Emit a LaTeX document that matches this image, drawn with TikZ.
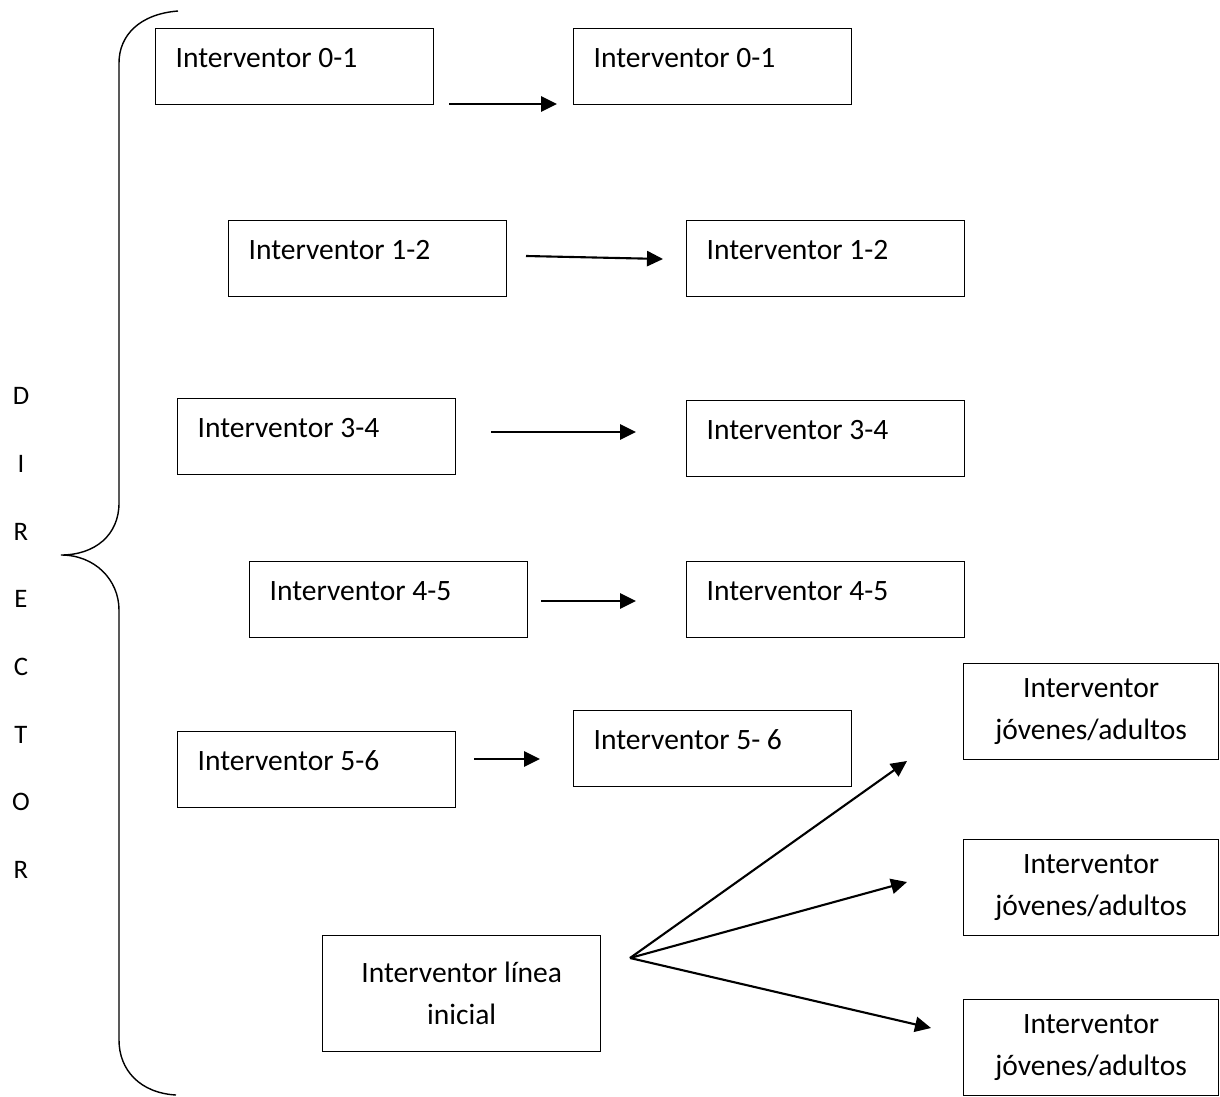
\documentclass[tikz,border=0pt]{standalone}
\usepackage{fontspec}
\setmainfont{Carlito}
\usetikzlibrary{arrows.meta}

\begin{document}
\begin{tikzpicture}[x=0.025cm, y=-0.025cm,
  ivbox/.style={draw, line width=0.9pt, anchor=north west, inner xsep=0.5cm, inner ysep=0pt,
    text width=5.95cm, align=flush left, text height=0.96cm, text depth=0.94cm,
    font=\fontsize{21}{25}\selectfont},
  cbox/.style={draw, line width=0.9pt, anchor=north west, inner sep=0pt, align=center,
    font=\fontsize{21}{30}\selectfont},
  arr/.style={line width=1.5pt, -{Triangle[length=0.4cm,width=0.38cm]}}]
\useasboundingbox (0,0) rectangle (1220,1096);

% left column
\node[ivbox] (a01) at (155,28) {Interventor 0-1};
\node[ivbox] (a12) at (228,220) {Interventor 1-2};
\node[ivbox] (a34) at (177,398) {Interventor 3-4};
\node[ivbox] (a45) at (249,561) {Interventor 4-5};
\node[ivbox] (a56) at (177,731) {Interventor 5-6};

% right column
\node[ivbox] (b01) at (573,28) {Interventor 0-1};
\node[ivbox] (b12) at (686,220) {Interventor 1-2};
\node[ivbox] (b34) at (686,400) {Interventor 3-4};
\node[ivbox] (b45) at (686,561) {Interventor 4-5};
\node[ivbox] (b56) at (573,710) {Interventor 5- 6};

% linea inicial and jovenes/adultos
\node[cbox, minimum width=6.95cm, minimum height=2.9cm] (linea) at (322,935) {Interventor línea\\inicial};
\node[cbox, minimum width=6.375cm, minimum height=2.4cm] (jov1) at (963,663) {Interventor\\jóvenes/adultos};
\node[cbox, minimum width=6.375cm, minimum height=2.4cm] (jov2) at (963,839) {Interventor\\jóvenes/adultos};
\node[cbox, minimum width=6.375cm, minimum height=2.4cm] (jov3) at (963,999) {Interventor\\jóvenes/adultos};

% arrow ends
\coordinate (s01) at (449,104); \coordinate (e01) at (557,104);
\coordinate (s12) at (526,256); \coordinate (e12) at (663,259);
\coordinate (s34) at (491,432); \coordinate (e34) at (636,432);
\coordinate (s45) at (541,601); \coordinate (e45) at (636,601);
\coordinate (s56) at (474,759); \coordinate (e56) at (540,759);
\coordinate (fan) at (630,958);
\coordinate (j1) at (907,761);
\coordinate (j2) at (907,882);
\coordinate (j3) at (931,1028);

\draw[arr] (s01) -- (e01);
\draw[arr] (s12) -- (e12);
\draw[arr] (s34) -- (e34);
\draw[arr] (s45) -- (e45);
\draw[arr] (s56) -- (e56);
\draw[arr] (fan) -- (j1);
\draw[arr] (fan) -- (j2);
\draw[arr] (fan) -- (j3);

% brace
\draw[line width=1pt] (178,11) .. controls (140,14) and (119,35) .. (119,63)
  -- (119,503) .. controls (119,535) and (95,555) .. (61,555)
  .. controls (95,555) and (119,580) .. (119,610)
  -- (119,1040) .. controls (119,1070) and (140,1093) .. (176,1095);

\node[align=center, font=\fontsize{19}{48.1}\selectfont] (director) at (21,633)
  {D\\I\\R\\E\\C\\T\\O\\R};
\end{tikzpicture}
\end{document}
